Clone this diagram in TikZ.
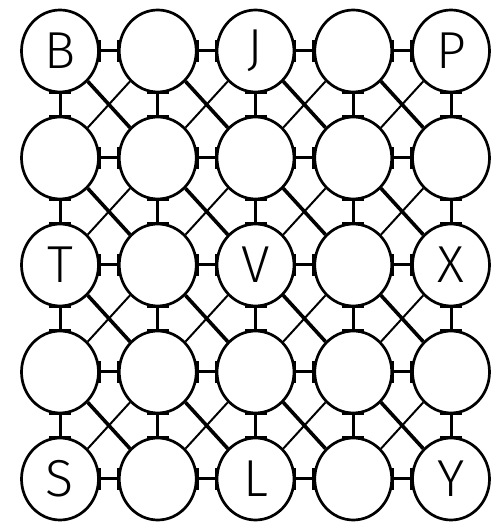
\documentclass[tikz,border=0pt]{standalone}
\usepackage{fontspec}
\newfontfamily\lblfont{Fira Sans Light}
\usetikzlibrary{arrows.meta,shapes.geometric}

\begin{document}
\begin{tikzpicture}
  [x=1pt,y=1pt,
  spot/.style={ellipse,draw,line width=2.7pt,minimum width=77pt,minimum height=82pt,
    inner sep=0pt,font=\lblfont\fontsize{52}{52}\selectfont},
  link/.style={line width=3pt,shorten <=-2pt,shorten >=-2pt,
    {Bar[width=22pt,line width=3pt]}-{Bar[width=22pt,line width=3pt]}},
  cross/.style={line width=3.6pt},
  slim/.style={line width=2pt}]
  \useasboundingbox (0,0) rectangle (497,523);
  % the 5x5 grid of spots
  \foreach \txt [count=\col] in {B,\relax,J,\relax,P}
    \node[spot] (n-1-\col) at ({60+97.75*(\col-1)},472) {\txt};
  \foreach \col in {1,...,5}
    \node[spot] (n-2-\col) at ({60+97.75*(\col-1)},365) {};
  \foreach \txt [count=\col] in {T,\relax,V,\relax,X}
    \node[spot] (n-3-\col) at ({60+97.75*(\col-1)},258) {\txt};
  \foreach \col in {1,...,5}
    \node[spot] (n-4-\col) at ({60+97.75*(\col-1)},151) {};
  \foreach \txt [count=\col] in {S,\relax,L,\relax,Y}
    \node[spot] (n-5-\col) at ({60+97.75*(\col-1)},44) {\txt};
  % rows and columns
  \foreach \row in {1,...,5}
    \foreach \col [count=\nxt from 2] in {1,...,4}
      \draw[link] (n-\row-\col) -- (n-\row-\nxt);
  \foreach \row [count=\dn from 2] in {1,...,4}
    \foreach \col in {1,...,5}
      \draw[link] (n-\row-\col) -- (n-\dn-\col);
  % diagonals
  \foreach \row [count=\dn from 2] in {1,...,4}
    \foreach \col [count=\nxt from 2] in {1,...,4}{
      \draw[cross] (n-\row-\col) -- (n-\dn-\nxt);
      \draw[slim] (n-\row-\nxt) -- (n-\dn-\col);
    }
\end{tikzpicture}
\end{document}
